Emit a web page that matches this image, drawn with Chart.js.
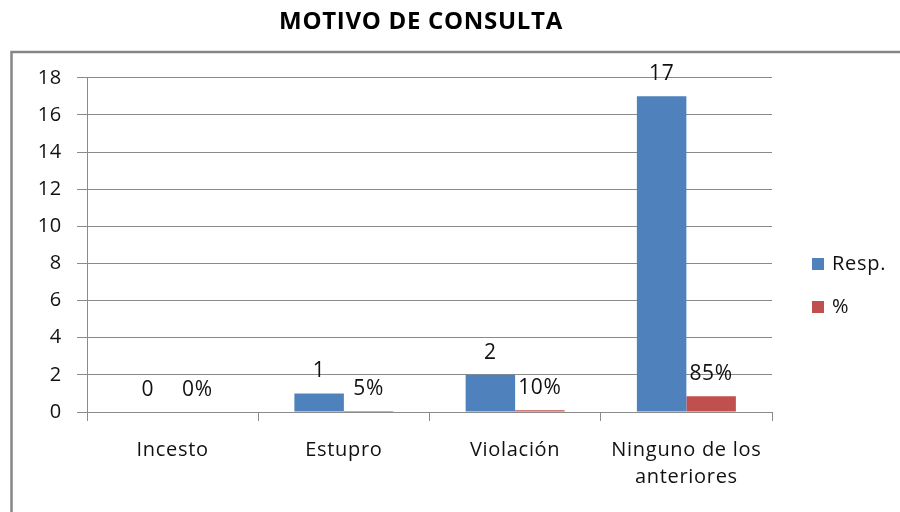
<!DOCTYPE html>
<html><head><meta charset="utf-8">
<script src="https://cdn.jsdelivr.net/npm/chart.js@4"></script>
<style>html,body{margin:0;padding:0;background:#fff}#wrap{width:900px;height:512px;position:relative}</style>
</head><body><div id="wrap"><canvas id="c" width="900" height="512"></canvas></div>
<script>
const chartTitle = 'MOTIVO DE CONSULTA';
const categories = ['Incesto', 'Estupro', 'Violación', ['Ninguno de los', 'anteriores']];
const seriesNames = ['Resp.', '%'];
const respValues = [0, 1, 2, 17];
const pctValues = [0, 0.05, 0.10, 0.85];
const respLabels = ['0', '1', '2', '17'];
const pctLabels = ['0%', '5%', '10%', '85%'];
const yMin = 0, yMax = 18, yStep = 2;

const colors = ['#4F81BD', '#C0504D'];
const FONT = '"Open Sans", Lato, sans-serif';
const GRID = '#8a8a8a';
const TEXT = '#111111';

const framePlugin = {
  id: 'frame',
  beforeDraw(chart) {
    const ctx = chart.ctx;
    ctx.letterSpacing = '0.7px';
    ctx.save();
    ctx.strokeStyle = '#868686';
    ctx.lineWidth = 2.5;
    ctx.strokeRect(11.5, 52, 1000, 1000);
    ctx.restore();
  }
};

const labelPlugin = {
  id: 'valueLabels',
  afterDatasetsDraw(chart) {
    const ctx = chart.ctx;
    const all = [respLabels, pctLabels];
    ctx.save();
    ctx.font = '21px ' + FONT;
    ctx.fillStyle = TEXT;
    ctx.textAlign = 'center';
    ctx.textBaseline = 'middle';
    all.forEach((labels, di) => {
      const meta = chart.getDatasetMeta(di);
      meta.data.forEach((bar, i) => {
        ctx.fillText(labels[i], bar.x, bar.y - 22);
      });
    });
    ctx.restore();
  }
};

const legendPlugin = {
  id: 'sideLegend',
  afterDraw(chart) {
    const ctx = chart.ctx;
    ctx.save();
    ctx.font = '20px ' + FONT;
    ctx.textBaseline = 'middle';
    ctx.textAlign = 'left';
    chart.data.datasets.forEach((ds, i) => {
      const cy = 264 + i * 43;
      ctx.fillStyle = ds.backgroundColor;
      ctx.fillRect(812, cy - 6, 12, 12);
      ctx.fillStyle = TEXT;
      ctx.fillText(ds.label, 832, cy);
    });
    ctx.restore();
  }
};

new Chart(document.getElementById('c'), {
  type: 'bar',
  data: {
    labels: categories,
    datasets: [
      { label: seriesNames[0], data: respValues, backgroundColor: colors[0] },
      { label: seriesNames[1], data: pctValues, backgroundColor: colors[1] }
    ]
  },
  options: {
    responsive: false,
    animation: false,
    devicePixelRatio: 1,
    layout: { padding: { left: 0, right: 58, top: 0, bottom: 0 } },
    datasets: { bar: { barPercentage: 1.0, categoryPercentage: 0.578 } },
    plugins: {
      legend: { display: false },
      tooltip: { enabled: false },
      title: {
        display: true,
        text: chartTitle,
        color: '#000',
        font: { family: FONT, size: 24, weight: 'bold', lineHeight: 1.2 },
        padding: { top: 8, bottom: 41 }
      }
    },
    scales: {
      x: {
        grid: { display: true, drawOnChartArea: false, drawTicks: true, tickLength: 9, color: GRID, offset: true },
        border: { display: true, color: GRID, width: 1 },
        ticks: { color: TEXT, font: { family: FONT, size: 20, lineHeight: 1.35 }, padding: 16, maxRotation: 0, autoSkip: false },
        afterFit(scale) { scale.height = 100; }
      },
      y: {
        min: yMin, max: yMax,
        grid: { color: GRID, tickLength: 10, drawTicks: true },
        border: { display: true, color: GRID, width: 1 },
        ticks: { stepSize: yStep, color: TEXT, font: { family: FONT, size: 20 }, padding: 15 },
        afterFit(scale) { scale.width = 87; }
      },
      ySpacer: {
        position: 'right',
        display: true,
        min: yMin, max: yMax,
        grid: { display: false, drawOnChartArea: false, drawTicks: false },
        border: { display: false },
        ticks: { display: false },
        afterFit(scale) { scale.width = 70; }
      }
    }
  },
  plugins: [framePlugin, labelPlugin, legendPlugin]
});
</script></body></html>
